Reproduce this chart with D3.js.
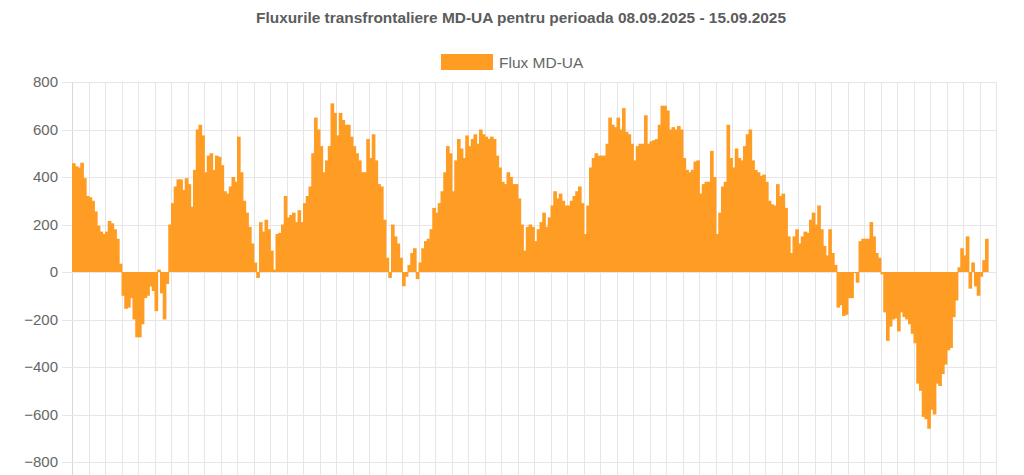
<!DOCTYPE html>
<html>
<head>
<meta charset="utf-8">
<script src="https://cdn.jsdelivr.net/npm/d3@7"></script>
<style>
  html, body { margin: 0; padding: 0; background: #fff; }
  svg { display: block; }
</style>
</head>
<body>
<svg id="chart" width="1024" height="475"></svg>
<script>
// ---- data (30-minute steps from 08.09.2025 00:00) ----
const chartTitle = "Fluxurile transfrontaliere MD-UA pentru perioada 08.09.2025 - 15.09.2025";
const seriesName = "Flux MD-UA";
const totalSlots = 336; // 7 days x 48 half-hours
const yTicks = [-800, -600, -400, -200, 0, 200, 400, 600, 800];

const fluxDay1 = [
  458,445,440,460,395,320, 315,300,255,195,170,160, 170,215,205,180,140,35,
  -100,-155,-150,-110,-200,-275, -275,-220,-110,-100,-60,-80, -165,10,-90,-200,-50,200,
  290,360,390,390,345,395, 370,275,430,600,620,575
];
const fluxDay2 = [
  420,490,500,430,490,485, 450,340,330,360,400,380, 570,420,300,250,190,120,
  40,-25,210,170,220,180, 90,10,160,165,200,320, 230,240,250,210,260,210,
  290,320,360,500,650,600, 530,420,470,530,710,670
];
const fluxDay3 = [
  575,670,640,620,620,570, 530,500,470,420,420,560, 480,580,470,370,360,220,
  60,-25,200,150,120,60, -60,-20,30,80,100,-30, 40,100,130,140,180,270,
  250,290,340,420,530,500, 340,470,560,520,480,575
];
const fluxDay4 = [
  530,560,580,540,600,580, 570,560,570,560,490,440, 380,370,420,400,370,370,
  310,200,90,190,200,190, 130,180,210,250,190,230, 280,340,310,330,300,280,
  280,300,320,340,360,290, 160,280,440,480,500,490
];
const fluxDay5 = [
  490,490,540,650,620,610, 650,600,690,590,580,540, 470,530,540,540,660,540,
  550,555,560,620,700,700, 680,600,610,600,615,600, 480,430,420,430,465,470,
  330,370,380,380,510,400, 160,250,360,380,620,480
];
const fluxDay6 = [
  440,520,480,470,530,580, 600,470,430,420,405,410, 380,300,285,280,370,320,
  330,270,150,80,150,180, 120,150,170,165,220,250, 200,280,180,110,70,180,
  80,30,-150,-140,-185,-180, -110,-110,-5,-45,130,140
];
const fluxDay7 = [
  140,140,210,150,80,60, -10,-170,-290,-230,-200,-195, -250,-170,-190,-200,-220,-260,
  -300,-470,-500,-610,-620,-660, -580,-600,-470,-480,-430,-390, -330,-320,-190,-120,20,100,
  70,150,-70,40,-60,-100, -20,50,140
];
const flux = [].concat(fluxDay1, fluxDay2, fluxDay3, fluxDay4, fluxDay5, fluxDay6, fluxDay7);

// ---- drawing ----
const W = 1024, H = 475;
const plot = { left: 72, right: 996, top: 82, bottom: 462 };
const barColor = "#FF9C24";
const gridColor = "#e6e6e6";
const textColor = "#666";
const font = "Liberation Sans, Arial, Helvetica, sans-serif";

const svg = d3.select("#chart");
svg.append("rect").attr("width", W).attr("height", H).attr("fill", "#fff");

const x = d3.scaleLinear().domain([0, totalSlots]).range([plot.left, plot.right]);
const y = d3.scaleLinear().domain([-800, 800]).range([plot.bottom, plot.top]);

// vertical grid (every 3 hours = 6 slots)
const vTicks = d3.range(0, totalSlots + 1, 6);
svg.append("g").selectAll("line").data(vTicks).join("line")
  .attr("x1", d => Math.round(x(d)) + 0.5).attr("x2", d => Math.round(x(d)) + 0.5)
  .attr("y1", plot.top).attr("y2", H)
  .attr("stroke", (d, i) => i === 0 ? "#d9d9d9" : gridColor).attr("stroke-width", 1);

// y axis grid + labels
const yAxis = d3.axisLeft(y).tickValues(yTicks).tickSize(plot.right - plot.left + 10).tickPadding(4);
const gy = svg.append("g").attr("transform", `translate(${plot.right},0)`).call(yAxis);
gy.select(".domain").remove();
gy.selectAll(".tick line").attr("stroke", gridColor).attr("shape-rendering", "crispEdges");
gy.selectAll(".tick text")
  .attr("fill", textColor)
  .attr("font-family", font)
  .attr("font-size", 15);

// bars (slightly overlapped so the fill reads as solid)
svg.append("g").selectAll("rect").data(flux).join("rect")
  .attr("x", (d, i) => x(i))
  .attr("width", (d, i) => x(i + 1) - x(i) + 0.9)
  .attr("y", d => y(Math.max(0, d)))
  .attr("height", d => Math.abs(y(d) - y(0)))
  .attr("fill", barColor);

// title
svg.append("text")
  .attr("x", 521).attr("y", 23)
  .attr("text-anchor", "middle")
  .attr("font-family", font)
  .attr("font-weight", "bold")
  .attr("font-size", 14.5)
  .attr("textLength", 530)
  .attr("lengthAdjust", "spacingAndGlyphs")
  .attr("fill", "#5c5c5c")
  .text(chartTitle);

// legend
svg.append("rect").attr("x", 441).attr("y", 54).attr("width", 52).attr("height", 16).attr("fill", barColor);
svg.append("text")
  .attr("x", 499).attr("y", 67.5)
  .attr("font-family", font)
  .attr("font-size", 15.5)
  .attr("fill", textColor)
  .text(seriesName);
</script>
</body>
</html>
